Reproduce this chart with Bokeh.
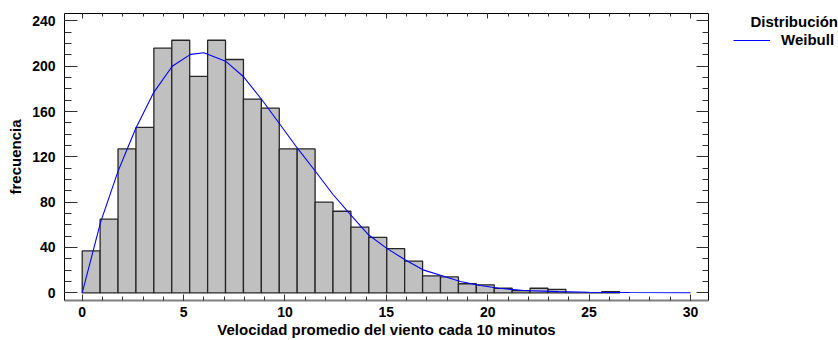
import numpy as np
from bokeh.plotting import figure
from bokeh.layouts import row
from bokeh.models import (Range1d, LinearAxis, SingleIntervalTicker, Legend,
                          LegendItem, Label, ColumnDataSource)
from bokeh.embed import file_html
from bokeh.resources import INLINE

# ---------------- data ----------------
bin_edges = [0.000, 0.884, 1.767, 2.651, 3.534, 4.418, 5.301, 6.185, 7.068,
             7.952, 8.835, 9.719, 10.602, 11.486, 12.369, 13.253, 14.136,
             15.020, 15.903, 16.787, 17.670, 18.554, 19.437, 20.321, 21.204,
             22.088, 22.971, 23.855, 24.738, 25.622, 26.505]
counts = [37, 65, 127, 146, 216, 223, 191, 223, 206, 171, 163, 127, 127, 80,
          72, 58, 49, 39, 28, 15, 14, 8, 7, 4, 2, 4, 3, 0, 0, 1]

curve_x = [0, 0.54, 0.90, 1.76, 2.22, 2.64, 3.53, 4.44, 5.34, 6.0, 7.07, 7.97,
           8.88, 9.74, 10.64, 11.47, 12.36, 13.23, 14.13, 15.04, 15.94, 16.85,
           17.75, 18.65, 19.64, 20.54, 21.78, 23.5, 25.0, 27.0, 30.0]
curve_y = [0, 37, 62, 107, 127, 145, 177, 200, 210.5, 212, 204.5, 190.5, 170,
           149, 127, 108, 87, 69, 51, 39, 29, 20, 15, 10, 6.5, 4, 2, 1, 0.5,
           0.2, 0]

x_label = "Velocidad promedio del viento cada 10 minutos"
y_label = "frecuencia"
legend_title = "Distribución"
series_name = "Weibull"

FONT = "Liberation Sans"
CURVE_COLOR = "#0000ff"
H = 340
TOP, BOTTOM = 13, 40

# ---------------- main figure ----------------
p = figure(width=720, height=H,
           x_range=Range1d(-0.873, 30.887), y_range=Range1d(-6.8, 246.6),
           output_backend="svg", toolbar_location=None,
           min_border_left=64, min_border_right=12,
           min_border_top=TOP, min_border_bottom=BOTTOM)
p.outline_line_color = None
p.grid.visible = False
p.background_fill_color = "white"
p.border_fill_color = "white"

bars = ColumnDataSource(dict(left=bin_edges[:-1], right=bin_edges[1:],
                             top=counts, bottom=[0] * len(counts)))
p.quad(left="left", right="right", top="top", bottom="bottom", source=bars,
       fill_color="#c0c0c0", line_color="#262626", line_width=1.3)

curve_src = ColumnDataSource(dict(x=curve_x, y=curve_y))
p.line("x", "y", source=curve_src, line_color=CURVE_COLOR, line_width=1.1)


def style_axis(ax, tick_in, minor_in, line_color="black", line_width=1):
    ax.major_tick_in = tick_in
    ax.major_tick_out = 0
    ax.minor_tick_in = minor_in
    ax.minor_tick_out = 0
    ax.major_tick_line_color = "#303030"
    ax.minor_tick_line_color = "#303030"
    ax.axis_line_color = line_color
    ax.axis_line_width = line_width
    ax.major_label_text_font = FONT
    ax.major_label_text_font_style = "bold"
    ax.major_label_text_font_size = "14px"
    ax.major_label_text_color = "black"
    ax.axis_label_text_font = FONT
    ax.axis_label_text_font_style = "bold"
    ax.axis_label_text_font_size = "15px"
    ax.axis_label_text_color = "black"


xb = p.xaxis[0]
xb.ticker = SingleIntervalTicker(interval=5, num_minor_ticks=5)
style_axis(xb, 6, 4, line_color="#808080", line_width=2)
xb.major_label_standoff = 6
xb.axis_label = x_label
xb.axis_label_standoff = 1

yl = p.yaxis[0]
yl.ticker = SingleIntervalTicker(interval=40, num_minor_ticks=4)
style_axis(yl, 13, 7)
yl.major_label_standoff = 9
yl.axis_label = y_label
yl.axis_label_standoff = 5

top_ticks = list(range(0, 31, 5))
xt = LinearAxis(ticker=SingleIntervalTicker(interval=5, num_minor_ticks=5),
                major_label_overrides={t: "" for t in top_ticks},
                major_label_standoff=0)
style_axis(xt, 5, 3)
p.add_layout(xt, "above")

right_ticks = list(range(0, 241, 40))
yr = LinearAxis(ticker=SingleIntervalTicker(interval=40, num_minor_ticks=4),
                major_label_overrides={t: "" for t in right_ticks},
                major_label_standoff=0)
style_axis(yr, 12, 6)
p.add_layout(yr, "right")

# ---------------- legend panel (ranges equal to pixel positions) ----------------
LW = 118
q = figure(width=LW, height=H, x_range=Range1d(0, LW),
           y_range=Range1d(BOTTOM, H - TOP),
           output_backend="svg", toolbar_location=None,
           x_axis_location=None, y_axis_location=None,
           min_border_left=0, min_border_right=0,
           min_border_top=TOP, min_border_bottom=BOTTOM)
q.outline_line_color = None
q.grid.visible = False
q.background_fill_color = "white"
q.border_fill_color = "white"

# legend proxy for the curve: same style, its points lie outside this panel's view
proxy_src = ColumnDataSource(dict(x=curve_x[:2], y=[-v for v in curve_y[:2]]))
leg_r = q.line("x", "y", source=proxy_src, line_color=CURVE_COLOR,
               line_width=1.1)

# y in this panel = H - (pixel row from the top of the picture)
q.add_layout(Label(x=30, y=H - 21, text=legend_title, text_align="left",
                   text_baseline="middle", text_font=FONT,
                   text_font_style="bold", text_font_size="15px",
                   text_color="black"))

legend = Legend(items=[LegendItem(label=series_name, renderers=[leg_r])],
                location=(13, (H - BOTTOM) - 48), padding=0, margin=0,
                spacing=0, glyph_width=37, glyph_height=16, label_standoff=11,
                label_height=16,
                label_text_font=FONT, label_text_font_style="bold",
                label_text_font_size="15px", label_text_color="black",
                border_line_color=None, background_fill_alpha=0)
q.add_layout(legend)

layout = row(p, q, spacing=0)

open("out.html", "w").write(file_html(layout, INLINE))
